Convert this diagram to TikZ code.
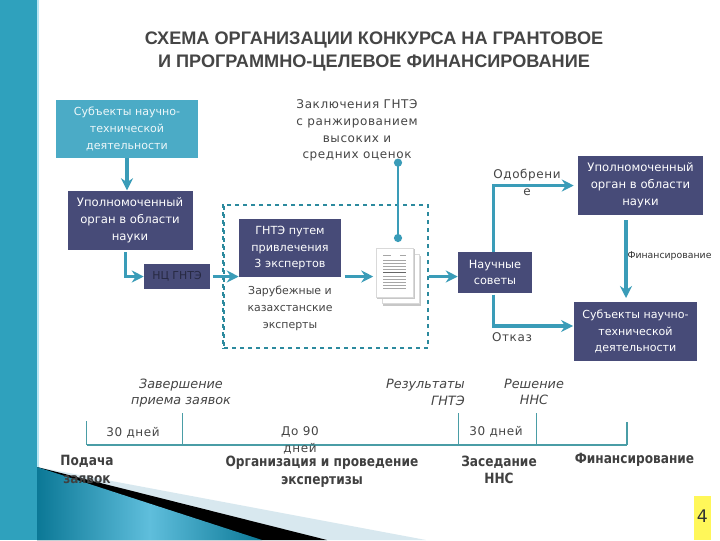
\documentclass[tikz,border=0pt]{standalone}
\usepackage{fontspec}
\setmainfont{DejaVu Sans}
\newfontfamily\titleface{Liberation Sans}
\newfontfamily\wideface[LetterSpace=5]{DejaVu Sans}
\newfontfamily\stampface[FakeStretch=0.86]{DejaVu Sans}
\usetikzlibrary{positioning,arrows.meta}
\definecolor{stripteal}{HTML}{2FA1BD}
\definecolor{stripedge}{HTML}{B8E6F3}
\definecolor{boxcyan}{HTML}{4BABC6}
\definecolor{boxnavy}{HTML}{474B78}
\definecolor{flowteal}{HTML}{3A9CB8}
\definecolor{lineteal}{HTML}{4A9DA6}
\definecolor{frameteal}{HTML}{2C8A9E}
\definecolor{inkgrey}{HTML}{454545}
\definecolor{paleblue}{HTML}{D8E8EF}
\definecolor{wedgedark}{HTML}{0B7896}
\definecolor{wedgelight}{HTML}{5FBEDC}

\begin{document}
\begin{tikzpicture}[
        x=0.75pt, y=-0.75pt,
        navy/.style={fill=boxnavy, text=white, align=center, font=\fontsize{8.75}{12.6}\selectfont, minimum width=93.75pt, minimum height=44.25pt, inner sep=0pt},
        cyanbox/.style={navy, fill=boxcyan, text=white!90!boxcyan, font=\fontsize{8.3}{12.6}\selectfont, minimum width=106.5pt, minimum height=43.5pt},
        plain/.style={text=inkgrey, align=center, inner sep=0pt, font=\fontsize{8.2}{12.6}\selectfont},
        spaced/.style={plain, font=\fontsize{9}{12.6}\selectfont\wideface},
        stamp/.style={plain, text=black!75, font=\fontsize{10.6}{13.2}\selectfont\stampface\bfseries},
        milestone/.style={plain, font=\fontsize{9.6}{12.6}\selectfont\itshape},
        flow/.style={draw=flowteal, line width=2.6pt, -{Stealth[length=9pt, width=9pt, inset=3pt]}},
        tline/.style={draw=lineteal, line width=0.8pt},
        sheet/.style={draw=black!15, fill=white, minimum width=27.5pt, minimum height=37pt, inner sep=0pt}
    ]

    % --- Slide background ---
    \fill[white] (0,0) rectangle (720,540);
    \useasboundingbox (0,0) rectangle (720,540);
    \fill[paleblue] (37,467) -- (426,540) -- (37,540) -- cycle;
    \fill[black] (37,467) -- (327,540) -- (37,540) -- cycle;
    \shade[left color=wedgedark, right color=wedgedark, middle color=wedgelight, shading angle=90] (37,467) -- (262,540) -- (37,540) -- cycle;
    \fill[stripteal] (0,0) rectangle (37,540);
    \fill[stripedge] (37,0) rectangle (39,467);

    % --- Title ---
    \node[text=inkgrey, align=center, inner sep=0pt, font=\fontsize{13.6}{17.25}\selectfont\titleface\bfseries] (title) at (374,51) {СХЕМА ОРГАНИЗАЦИИ КОНКУРСА НА ГРАНТОВОЕ\\И ПРОГРАММНО-ЦЕЛЕВОЕ ФИНАНСИРОВАНИЕ};

    % --- Expert frame ---
    \node[draw=frameteal, dashed, line width=0.8pt, minimum width=153pt, minimum height=107.25pt, inner sep=0pt] (frame) at (326,276.5) {};
    \draw[draw=frameteal, dashed, line width=1.5pt] (frame.north west) -- (frame.south west);

    % --- Left column ---
    \node[cyanbox] (subj1) at (127,129) {Субъекты научно-\\технической\\деятельности};
    \node[navy, below=24pt of subj1, xshift=2.25pt] (org1) {Уполномоченный\\орган в области\\науки};
    \node[navy, text=boxnavy!55!black, font=\fontsize{8.2}{12.6}\selectfont, minimum width=49.5pt, minimum height=18.75pt] (ncgnte) at (177,276.5) {НЦ ГНТЭ};

    % --- Expert group ---
    \node[navy, font=\fontsize{8.4}{12.6}\selectfont, minimum width=76.5pt, minimum height=43.5pt] (gnte) at (290,248) {ГНТЭ путем\\привлечения\\3 экспертов};
    \node[plain, below=6.5pt of gnte] (foreign) {Зарубежные и\\казахстанские\\эксперты};

    % --- Document icon ---
    \node[sheet, fill=black!22, draw=black!22] (docshadow) at (402,280.5) {};
    \node[sheet] (docback) at (401,279) {};
    \node[sheet, fill=black!22, draw=black!22] (docshade) at (395.5,274) {};
    \node[sheet] (doc) at (394.5,272.5) {};
    \foreach \yy in {260,263,266,269,276,279,282,285,288} {
        \draw[black!35, line width=0.6pt] (383,\yy) -- (406,\yy);
    }
    \draw[black!60, line width=1pt] (383,272.5) -- (406,272.5);
    \draw[black!35, line width=0.5pt] (383,255) -- (391,255) (400,255) -- (406,255);

    % --- Conclusions label ---
    \node[spaced] (verdict) at (357,130.5) {Заключения ГНТЭ\\с ранжированием\\высоких и\\средних оценок};

    % --- Right column ---
    \node[navy, font=\fontsize{8.5}{12.6}\selectfont, minimum width=55.5pt, minimum height=30.75pt] (councils) at (495,272.5) {Научные\\советы};
    \node[navy] (org2) at (640.5,185.5) {Уполномоченный\\орган в области\\науки};
    \node[navy, font=\fontsize{8.3}{12.6}\selectfont, minimum width=92.25pt] (subj2) at (635.5,331.5) {Субъекты научно-\\технической\\деятельности};
    \node[spaced] (approve) at (527,182.5) {Одобрени\\е};
    \node[spaced] (reject) at (512,337) {Отказ};
    \node[plain, font=\fontsize{7}{8}\selectfont, text=black!80] (funding) at (669.5,256) {Финансирование};

    % --- Connections ---
    \draw[flow] (subj1) -- (subj1 |- org1.north);
    \draw[flow, line width=2pt] ([xshift=-3.5pt, yshift=-2pt]org1.south) |- (ncgnte.west);
    \draw[flow, line width=2pt, shorten <=2pt] (ncgnte.east) -- (gnte.west |- ncgnte.east);
    \draw[flow, shorten <=2.5pt, shorten >=2pt] (gnte.east |- ncgnte) -- (doc.west |- ncgnte);
    \draw[flow] (frame.east |- ncgnte) -- (councils.west |- ncgnte);
    \draw[draw=flowteal, line width=2pt, {Circle[length=6pt]}-{Circle[length=6pt]}] (verdict.south -| 398,0) ++(0,-3) -- (398,242);
    \draw[flow] ([xshift=-1pt]councils.north) |- ([xshift=-3pt]org2.west);
    \draw[flow] ([xshift=-1pt, yshift=-1pt]councils.south) |- ([xshift=-0.5pt]subj2.west |- 0,326);
    \draw[flow, shorten <=4pt, shorten >=3pt] (626,215) -- (626,302);

    % --- Timeline ---
    \coordinate (t0) at (86.5,445);
    \coordinate (t1) at (182.5,445);
    \coordinate (t2) at (458.5,445);
    \coordinate (t3) at (536.5,445);
    \coordinate (t4) at (627,445);
    \draw[tline] (t0) -- (t4);
    \draw[tline] (t0) -- ++(0,-24);
    \draw[tline] (t1) -- ++(0,-32);
    \draw[tline] (t2) -- ++(0,-32);
    \draw[tline] (t3) -- ++(0,-32);
    \draw[tline] (t4) -- ++(0,-23);

    % Milestones
    \node[milestone] (closing) at (181,393) {Завершение\\приема заявок};
    \node[milestone, align=right, anchor=east] (results) at (465,392.5) {Результаты\\ГНТЭ};
    \node[milestone] (decision) at (534,392) {Решение\\ННС};

    % Durations
    \node[spaced] (days1) at (133,433) {30 дней};
    \node[spaced] (days2) at (300,440.5) {До 90\\дней};
    \node[spaced] (days3) at (496,432) {30 дней};

    % Stages
    \node[stamp] (submit) at (87,469.5) {Подача\\заявок};
    \node[stamp] (review) at (322,472) {Организация и проведение\\экспертизы};
    \node[stamp] (meeting) at (499,470) {Заседание\\ННС};
    \node[stamp] (money) at (634.5,460) {Финансирование};

    % --- Page number ---
    \node[fill=yellow!65, minimum width=12.75pt, minimum height=33pt, inner sep=0pt] (pagebox) at (702.5,518) {};
    \node[font=\fontsize{13}{13}\selectfont, text=black!80, inner sep=0pt] (pagenum) at (702.5,516.5) {4};

    \end{tikzpicture}
\end{document}
